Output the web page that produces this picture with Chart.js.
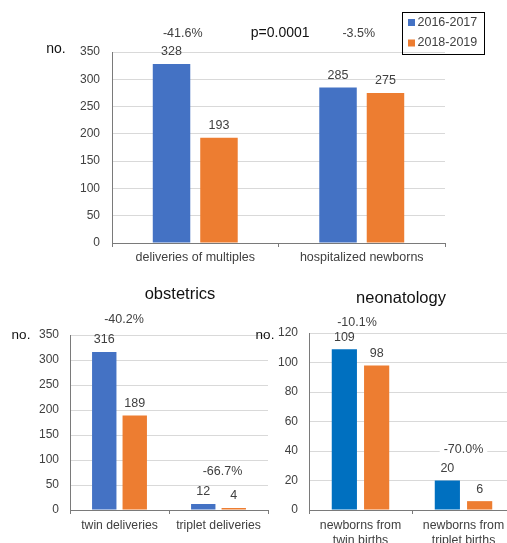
<!DOCTYPE html>
<html>
<head>
<meta charset="utf-8">
<script src="https://cdn.jsdelivr.net/npm/chart.js@4/dist/chart.umd.min.js"></script>
<style>
  html, body { margin: 0; padding: 0; background: #fff; width: 507px; height: 543px; overflow: hidden; position: relative; }
  canvas { position: absolute; }
</style>
</head>
<body>
<canvas id="overview" width="507" height="270" style="left:0;top:0"></canvas>
<canvas id="obstetrics" width="300" height="273" style="left:0;top:270px"></canvas>
<canvas id="neonatology" width="290" height="273" style="left:250px;top:270px"></canvas>
<script>
// ---- data ----
const seriesNames = ['2016-2017', '2018-2019'];

const overviewCats = ['deliveries of multiples', 'hospitalized newborns'];
const overview1617 = [328, 285];
const overview1819 = [193, 275];
const overviewChange = ['-41.6%', '-3.5%'];
const overviewTest = 'p=0.0001';
const overviewAxis = { max: 350, step: 50 };

const obstetricsCats = ['twin deliveries', 'triplet deliveries'];
const obstetrics1617 = [316, 12];
const obstetrics1819 = [189, 4];
const obstetricsChange = ['-40.2%', '-66.7%'];
const obstetricsAxis = { max: 350, step: 50 };

const neonatologyCats = [['newborns from', 'twin births'], ['newborns from', 'triplet births']];
const neonatology1617 = [109, 20];
const neonatology1819 = [98, 6];
const neonatologyChange = ['-10.1%', '-70.0%'];
const neonatologyAxis = { max: 120, step: 20 };

// ---- styles ----
const FONT = '"Liberation Sans", Arial, Helvetica, sans-serif';
const BLUE = '#4472C4';
const BLUE2 = '#0070C0';
const ORANGE = '#ED7D31';
const TEXT = '#404040';
const DARK = '#111111';
const GRID = '#d9d9d9';
const AXIS = '#7a7a7a';

// Value labels, change labels, unit label, panel title and legend
const notesPlugin = {
  id: 'notes',
  afterDatasetsDraw(chart, args, opts) {
    const ctx = chart.ctx;
    const xs = chart.scales.x, ys = chart.scales.y, area = chart.chartArea;
    ctx.save();
    ctx.textAlign = 'center';
    ctx.textBaseline = 'middle';

    // bar values
    ctx.font = opts.valueFont;
    ctx.fillStyle = TEXT;
    chart.data.datasets.forEach((ds, di) => {
      chart.getDatasetMeta(di).data.forEach((bar, i) => {
        ctx.fillText(String(ds.data[i]), bar.x, bar.y - opts.valueGap);
      });
    });

    // change / test labels, anchored in data units
    (opts.notes || []).forEach(n => {
      const x = xs.getPixelForValue(n.at);
      const y = ys.getPixelForValue(n.value);
      ctx.font = n.font;
      if (n.knockout) {
        const w = ctx.measureText(n.text).width + 8;
        ctx.fillStyle = '#fff';
        ctx.fillRect(x - w / 2, y - 8, w, 16);
      }
      ctx.fillStyle = n.color || TEXT;
      ctx.fillText(n.text, x, y);
    });

    // unit label
    if (opts.unit) {
      ctx.font = opts.unit.font;
      ctx.fillStyle = DARK;
      ctx.fillText(opts.unit.text, area.left + opts.unit.dx, area.top + opts.unit.dy);
    }

    // panel title
    if (opts.title) {
      ctx.font = opts.title.font;
      ctx.fillStyle = DARK;
      ctx.fillText(opts.title.text, opts.title.x, opts.title.y);
    }

    // legend box
    if (opts.legend) {
      const L = opts.legend;
      ctx.strokeStyle = '#000';
      ctx.lineWidth = 1;
      ctx.strokeRect(L.x + 0.5, L.y + 0.5, L.w, L.h);
      ctx.font = L.font;
      ctx.textAlign = 'left';
      chart.data.datasets.forEach((ds, di) => {
        const cy = L.y + L.rowY[di];
        ctx.fillStyle = ds.backgroundColor;
        ctx.fillRect(L.x + 6, cy - 3.5, 7, 7);
        ctx.fillStyle = TEXT;
        ctx.fillText(ds.label, L.x + 15.5, cy);
      });
    }
    ctx.restore();
  }
};

function makeChart(id, cfg) {
  return new Chart(document.getElementById(id), {
    type: 'bar',
    data: {
      labels: cfg.labels,
      datasets: [
        { label: seriesNames[0], data: cfg.a, backgroundColor: cfg.colorA, borderWidth: 0,
          categoryPercentage: cfg.cp, barPercentage: cfg.bp },
        { label: seriesNames[1], data: cfg.b, backgroundColor: ORANGE, borderWidth: 0,
          categoryPercentage: cfg.cp, barPercentage: cfg.bp }
      ]
    },
    options: {
      responsive: false,
      animation: false,
      layout: { padding: cfg.padding },
      plugins: {
        legend: { display: false },
        tooltip: { enabled: false },
        notes: cfg.notes
      },
      scales: {
        x: {
          afterFit(s) { s.height = cfg.xHeight; },
          grid: { drawOnChartArea: false, drawTicks: true, tickLength: 4, color: AXIS, offset: true },
          border: { display: true, color: AXIS, width: 1 },
          ticks: { color: TEXT, font: { family: FONT, size: cfg.xFont }, padding: cfg.xPad, maxRotation: 0, autoSkip: false }
        },
        y: {
          min: 0, max: cfg.axis.max,
          afterFit(s) { s.width = cfg.yWidth; },
          grid: { drawTicks: false, color: c => (c.tick && c.tick.value === 0) ? AXIS : GRID },
          border: { display: true, color: AXIS, width: 1 },
          ticks: { stepSize: cfg.axis.step, color: TEXT, font: { family: FONT, size: 12 }, padding: cfg.yPad }
        }
      }
    },
    plugins: [notesPlugin]
  });
}

makeChart('overview', {
  labels: overviewCats, a: overview1617, b: overview1819, colorA: BLUE,
  cp: 0.57, bp: 0.79, axis: overviewAxis,
  padding: { left: 0, top: 52, right: 62, bottom: 0 },
  xHeight: 27, yWidth: 112, yPad: 12, xPad: 3.5, xFont: 12.5,
  notes: {
    valueFont: '12.5px ' + FONT, valueGap: 12,
    notes: [
      { text: overviewChange[0], at: -0.075, value: 383, font: '12.5px ' + FONT },
      { text: overviewTest, at: 0.51, value: 385, font: '14px ' + FONT, color: DARK },
      { text: overviewChange[1], at: 0.982, value: 383, font: '12.5px ' + FONT }
    ],
    unit: { text: 'no.', dx: -56, dy: -3, font: '14px ' + FONT },
    legend: { x: 402, y: 12, w: 82, h: 42, rowY: [10.5, 31], font: '12.5px ' + FONT }
  }
});

makeChart('obstetrics', {
  labels: obstetricsCats, a: obstetrics1617, b: obstetrics1819, colorA: BLUE,
  cp: 0.616, bp: 0.80, axis: obstetricsAxis,
  padding: { left: 0, top: 65, right: 32, bottom: 0 },
  xHeight: 33, yWidth: 70, yPad: 11, xPad: 4, xFont: 12.2,
  notes: {
    valueFont: '12.5px ' + FONT, valueGap: 12,
    notes: [
      { text: obstetricsChange[0], at: 0.045, value: 380, font: '12.5px ' + FONT },
      { text: obstetricsChange[1], at: 1.04, value: 76, font: '12.5px ' + FONT }
    ],
    unit: { text: 'no.', dx: -49, dy: 0.5, font: '13.5px ' + FONT },
    title: { text: 'obstetrics', x: 180, y: 24, font: '16.5px ' + FONT }
  }
});

makeChart('neonatology', {
  labels: neonatologyCats, a: neonatology1617, b: neonatology1819, colorA: BLUE2,
  cp: 0.627, bp: 0.78, axis: neonatologyAxis,
  padding: { left: 0, top: 63, right: 25, bottom: 0 },
  xHeight: 33, yWidth: 59, yPad: 11, xPad: 4.5, xFont: 12.3,
  notes: {
    valueFont: '12.5px ' + FONT, valueGap: 12,
    notes: [
      { text: neonatologyChange[0], at: -0.034, value: 127, font: '12.5px ' + FONT },
      { text: neonatologyChange[1], at: 1.0, value: 40.7, font: '12.5px ' + FONT, knockout: true }
    ],
    unit: { text: 'no.', dx: -44, dy: 2, font: '13.5px ' + FONT },
    title: { text: 'neonatology', x: 151, y: 28, font: '16.5px ' + FONT }
  }
});
</script>
</body>
</html>
